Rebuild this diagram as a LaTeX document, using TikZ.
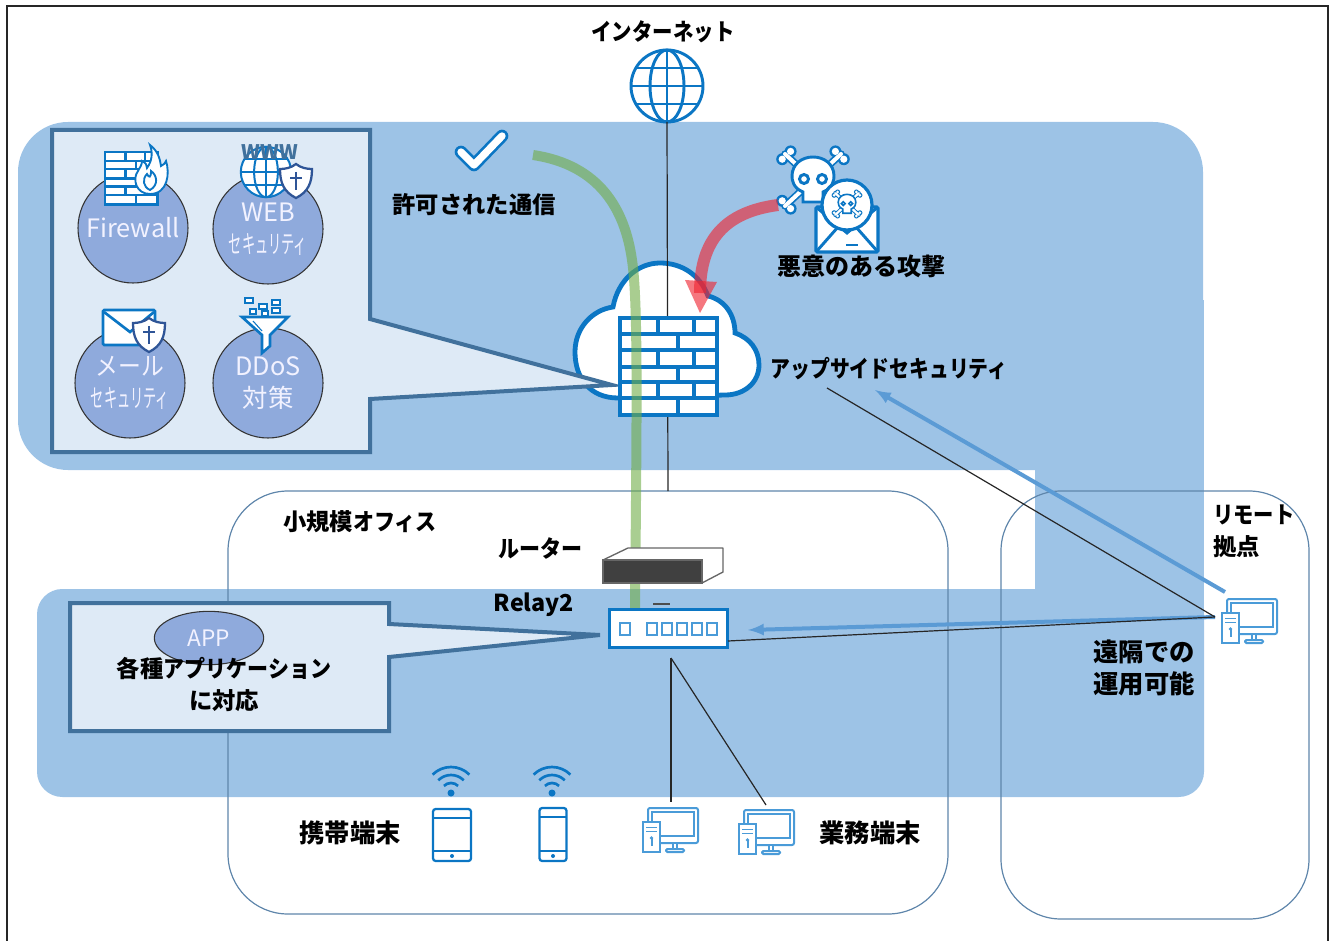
\documentclass[tikz,border=0pt]{standalone}
\usepackage{fontspec}
\setmainfont{Noto Sans CJK JP}
\usepackage{tikz}
\usetikzlibrary{arrows,arrows.meta,shapes.geometric,positioning,calc}

\definecolor{bandblue}{HTML}{9DC3E6}
\definecolor{calloutfill}{HTML}{DEEAF6}
\definecolor{calloutline}{HTML}{41719C}
\definecolor{circlefill}{HTML}{8FAADC}
\definecolor{iconblue}{HTML}{0B76C4}
\definecolor{pcblue}{HTML}{4A9BD8}
\definecolor{shieldblue}{HTML}{2F5597}
\definecolor{arrowblue}{HTML}{5B9BD5}
\definecolor{officeline}{HTML}{5F86AB}
\definecolor{okgreen}{HTML}{70AD47}
\definecolor{badred}{RGB}{239,37,50}

\newcommand{\kana}[2][.9]{\scalebox{#1}[1]{#2}}
\newcommand{\tight}[1]{\scalebox{.52}[1]{#1}}

\tikzset{
    pics/wall/.style={code={
        \fill[white] (0,0) rectangle (97,97);
        \foreach \y in {16,32,49,64,80} \draw[draw=iconblue] (0,\y) -- (97,\y);
        \foreach \a/\b in {0/16,32/49,64/80} {
            \draw[draw=iconblue] (38,\a) -- (38,\b);
            \draw[draw=iconblue] (74,\a) -- (74,\b);
        }
        \foreach \a/\b in {16/32,49/64,80/97} \draw[draw=iconblue] (58,\a) -- (58,\b);
        \draw[draw=iconblue] (0,0) rectangle (97,97);
    }},
    pics/flame/.style={code={
        \draw[draw=iconblue,fill=white] (0,25) .. controls (-14,25) and (-18,10) .. (-12,2) .. controls (-10,-2) and (-8,-4) .. (-8,-8) .. controls (-4,-6) and (-3,-4) .. (-3,-1) .. controls (2,-8) and (3,-16) .. (0,-24) .. controls (8,-18) and (10,-10) .. (11,-3) .. controls (14,-4) and (15,-6) .. (16,-8) .. controls (20,4) and (18,25) .. (0,25) -- cycle;
        \draw[draw=iconblue] (0,21) .. controls (-7,18) and (-8,10) .. (-3,5) .. controls (-1,9) and (1,9) .. (1,2) .. controls (7,6) and (9,16) .. (0,21) -- cycle;
    }},
    pics/earth/.style={code={
        \draw[draw=iconblue,fill=white] (0,0) circle[radius=36];
        \draw[draw=iconblue] (0,0) ellipse[x radius=17,y radius=36];
        \draw[draw=iconblue] (0,-36) -- (0,36);
        \draw[draw=iconblue] (-36,0) -- (36,0);
        \draw[draw=iconblue] (-31,-18) -- (31,-18);
        \draw[draw=iconblue] (-31,18) -- (31,18);
    }},
    pics/shield/.style={code={
        \draw[draw=shieldblue,fill=white,line width=1.7pt] (0,-17) .. controls (5,-13) and (11,-12) .. (16,-12) .. controls (16,2) and (12,11) .. (0,17) .. controls (-12,11) and (-16,2) .. (-16,-12) .. controls (-11,-12) and (-5,-13) .. (0,-17) -- cycle;
        \draw[draw=shieldblue,line width=2.2pt] (0,-9) -- (0,9);
        \draw[draw=shieldblue,line width=2.2pt] (-6,-3) -- (6,-3);
    }},
    pics/letter/.style={code={
        \draw[draw=iconblue,fill=white,rounded corners=1pt] (0,0) rectangle (52,35);
        \draw[draw=iconblue] (1,2) -- (27,22) -- (51,2);
    }},
    pics/skull/.style={code={
        \foreach \p/\q in {-28/-26,28/-26,-28/26,28/26} {
            \draw[draw=iconblue,line width=#1*5.6pt,line cap=round] (0,0) -- (\p,\q);
            \fill[iconblue] (\p*1.1,\q*.8) circle[radius=6];
            \fill[iconblue] (\p*.8,\q*1.1) circle[radius=6];
        }
        \foreach \p/\q in {-28/-26,28/-26,-28/26,28/26} {
            \draw[draw=white,line width=#1*3pt,line cap=round] (0,0) -- (\p,\q);
            \fill[white] (\p*1.1,\q*.8) circle[radius=3.6];
            \fill[white] (\p*.8,\q*1.1) circle[radius=3.6];
        }
        \draw[draw=iconblue,fill=white,line width=#1*2.2pt] (-10,22) -- (-10,12) .. controls (-20,8) and (-21,0) .. (-21,-4) .. controls (-21,-16) and (-11,-23) .. (0,-23) .. controls (11,-23) and (21,-16) .. (21,-4) .. controls (21,0) and (20,8) .. (10,12) -- (10,22) -- cycle;
        \draw[draw=iconblue,line width=#1*2.2pt] (-9,-1) circle[radius=4.5];
        \draw[draw=iconblue,line width=#1*2.2pt] (9,-1) circle[radius=4.5];
    }},
    pics/funnel/.style={code={
        \foreach \p/\q/\r in {3/0/8,30/2/8,17/6/8,30/10/8,8/11/6,20/13/6} \draw[draw=iconblue,fill=white,line width=1.3pt] (\p,\q) rectangle ++(\r,5);
        \draw[draw=iconblue,fill=white] (0,19) -- (46,19) -- (28,37) -- (28,48) -- (20,55) -- (20,37) -- cycle;
        \draw[draw=iconblue,line width=.8pt] (11,23) -- (20,33);
    }},
    pics/desktop/.style={code={
        \draw[draw=pcblue,fill=white,rounded corners=1.5pt] (5,0) rectangle (55,35);
        \draw[draw=pcblue,line width=.8pt] (9,4) rectangle (51,28);
        \draw[draw=pcblue,fill=white] (30,35) rectangle (34,41);
        \draw[draw=pcblue,fill=white,rounded corners=1pt] (23,41) rectangle (41,44);
        \draw[draw=pcblue,fill=white] (0,14) rectangle (17,44);
        \draw[draw=pcblue,line width=.7pt] (3,19) -- (14,19);
        \draw[draw=pcblue,line width=.7pt] (3,23) -- (14,23);
        \draw[draw=pcblue] (8.5,30) -- (8.5,38);
        \fill[pcblue] (8.5,30) circle[radius=1.8];
    }},
    pics/handset/.style 2 args={code={
        \draw[draw=iconblue,fill=white,rounded corners=2pt] ({-#1/2},0) rectangle ({#1/2},#2);
        \draw[draw=iconblue,line width=1pt] ({-#1/2},9) -- ({#1/2},9);
        \draw[draw=iconblue,line width=1pt] ({-#1/2},{#2-10}) -- ({#1/2},{#2-10});
        \fill[iconblue] (0,{#2-5}) circle[radius=2];
    }},
    pics/wifi/.style={code={
        \fill[iconblue] (0,0) circle[radius=3.5];
        \foreach \r in {10,18,26} \draw[draw=iconblue,line width=2pt] (-135:\r) arc[start angle=-135,end angle=-45,radius=\r];
    }},
}

\begin{document}
\begin{tikzpicture}[
    x=0.75pt, y=-0.75pt,
    lab/.style={inner sep=0pt, align=center, font=\fontsize{17.5}{24}\selectfont\bfseries},
    wide/.style={font=\fontsize{19}{24}\selectfont\bfseries},
    roundbox/.style={draw=officeline, line width=0.9pt, rounded corners=45pt},
    callout/.style={draw=calloutline, fill=calloutfill, line width=3pt, line join=miter},
    service/.style={circle, draw=black!80, fill=circlefill, line width=0.8pt, minimum size=82.5pt, inner sep=0pt, align=center, text=white!95!blue, font=\fontsize{19}{24}\selectfont},
    wire/.style={draw=black!85, line width=0.9pt},
    blueline/.style={draw=arrowblue, line width=3pt, -latex},
    icon/.style={every path/.style={line width=#1}}
]
    \useasboundingbox (0,0) rectangle (1335,941);

    % outer frame
    \draw[black!85, line width=1.4pt] (7,941) -- (7,6) -- (1328,6) -- (1328,941);

    % blue bands
    \fill[bandblue, rounded corners=37.5pt] (18,122) rectangle (1203,470);
    \fill[bandblue] (1035,300) rectangle (1204,700);
    \fill[bandblue, rounded corners=19pt] (37,589) rectangle (1204,797);

    % sites
    \draw[roundbox] (228,491) rectangle (948,914);
    \draw[roundbox] (1001,491) rectangle (1309,919);

    % lower callout
    \draw[callout] (70,603) -- (389,603) -- (389,624) -- (600,635) -- (389,657) -- (389,731) -- (70,731) -- cycle;
    \node[ellipse, draw=black!80, fill=circlefill, line width=0.8pt, minimum width=82pt, minimum height=40pt, inner sep=0pt, text=white!95!blue, font=\fontsize{17}{20}\selectfont] (app) at (209,638) {APP};
    \node[lab] (apptext) at (224,684) {各種\kana{アプリケーション}\\に対応};

    % internet
    \pic[icon=2.2pt] at (667,86) {earth};
    \coordinate (inet) at (667,122);
    \node[lab] (inettext) at (663,32) {\kana[.875]{インターネット}};

    % cloud
    \draw[draw=iconblue, fill=white, line width=3.6pt] (618,398) .. controls (590,398) and (575,378) .. (575,352) .. controls (575,328) and (592,310) .. (613,307) .. controls (618,280) and (638,263) .. (660,263) .. controls (682,263) and (700,275) .. (708,296) .. controls (725,300) and (735,315) .. (735,333) .. controls (750,338) and (759,350) .. (759,365) .. controls (759,382) and (745,395) .. (725,395) -- cycle;

    % wire behind the wall
    \coordinate (officetop) at (668,491);
    \draw[wire] (inet) -- (officetop);

    % upper callout
    \draw[callout] (52,130) -- (370,130) -- (370,319) -- (612,385) -- (370,399) -- (370,452) -- (52,452) -- cycle;

    \pic[icon=2.6pt] at (620,318) {wall};

    % services
    \node[service] (fw) at (133,228) {Firewall};
    \node[service] (web) at (268,229) {WEB\\\tight{セキュリティ}};
    \node[service] (mail) at (130,383) {\kana{メール}\\\tight{セキュリティ}};
    \node[service] (ddos) at (268,383) {DDoS\\対策};

    \pic[scale=.54, icon=1.7pt] at (105,152) {wall};
    \pic[icon=1.4pt] at (150,169) {flame};
    \pic[scale=.7, icon=1.5pt] at (266,172) {earth};
    \node[inner sep=0pt, text=calloutline, font=\fontsize{15}{15}\selectfont\bfseries] (www) at (270,152) {WWW};
    \pic at (296,181) {shield};
    \pic[icon=2pt] at (103,310) {letter};
    \pic at (149,335) {shield};
    \pic[icon=2pt] at (242,298) {funnel};

    % allowed traffic
    \draw[draw=iconblue, line width=9.5pt, line cap=round, line join=round] (461,152) -- (474,165) -- (502,136);
    \draw[draw=white, line width=5.5pt, line cap=round, line join=round] (461,152) -- (474,165) -- (502,136);
    \node[lab] (oktext) at (474,205) {許可された通信};
    \draw[draw=okgreen, draw opacity=.6, line width=7.5pt] (533,155) .. controls (600,165) and (625,210) .. (632,260) .. controls (638,300) and (637,400) .. (635,608);

    % attack
    \pic at (813,180) {skull=1};
    \draw[draw=iconblue, fill=white, line width=2.4pt, rounded corners=1pt] (816,207) rectangle (878,252);
    \draw[draw=iconblue, line width=2.2pt] (816,207) -- (847,233) -- (878,207);
    \draw[draw=iconblue, line width=2.2pt] (816,252) -- (838,227);
    \draw[draw=iconblue, line width=2.2pt] (878,252) -- (856,227);
    \draw[draw=iconblue, line width=1.4pt] (846,245) -- (858,245);
    \draw[draw=iconblue, fill=white, line width=2.4pt] (847,205) circle[radius=25];
    \pic[scale=.42] at (847,204) {skull=.55};
    \node[lab, font=\fontsize{18}{24}\selectfont\bfseries] (badtext) at (861,266) {悪意のある攻撃};
    \draw[draw=badred, draw opacity=.62, line width=9pt] (778,205) .. controls (725,212) and (700,240) .. (700,293);
    \fill[fill=badred, fill opacity=.62] (685,280) -- (717,282) -- (700,313) -- cycle;

    % labels
    \node[lab] (fwtext) at (889,369) {\kana[.85]{アップサイドセキュリティ}};
    \node[lab] (office) at (360,522) {小規模\kana{オフィス}};
    \node[lab] (routertext) at (540,548) {\kana{ルーター}};
    \node[lab] (relaytext) at (534,605) {Relay2};
    \node[lab, anchor=north west, align=left] (remote) at (1213,505) {\kana[.87]{リモート}\\拠点};
    \node[lab, wide] (farops) at (1144,668) {遠隔での\\運用可能};
    \node[lab, wide] (mobile) at (350,833) {携帯端末};
    \node[lab, wide] (business) at (870,833) {業務端末};

    % router
    \draw[draw=black!60, fill=white, line width=1pt, line join=round] (603,560) -- (628,548) -- (723,548) -- (723,572) -- (702,583) -- (702,560) -- cycle;
    \draw[draw=black!60, fill=black!75, line width=1pt] (603,560) rectangle (702,583);

    % relay
    \node[draw=iconblue, fill=white, line width=2.2pt, minimum width=88pt, minimum height=28pt, inner sep=0pt] (relay) at (668.5,628.5) {};
    \foreach \p in {620,647,662,677,692,707} \draw[draw=pcblue, line width=1.4pt] (\p,623) rectangle ++(10,12);
    \draw[black!70, line width=1pt] (653,604) -- (670,604);

    % terminals
    \pic[icon=1.5pt] at (643,808) {desktop};
    \pic[icon=1.5pt] at (739,810) {desktop};
    \pic[icon=1.5pt] at (1222,599) {desktop};
    \coordinate (pcone) at (671,802);
    \coordinate (pctwo) at (766,805);
    \coordinate (pcfar) at (1215,617);
    \coordinate (relaywire) at (671,658);
    \coordinate (relayside) at (728,641);
    \coordinate (fwwire) at (827,388);
    \coordinate (remotetop) at (1225,592);
    \coordinate (fwhead) at (875,390);
    \coordinate (relayhead) at (748,630);

    \draw[blueline] (pcfar) -- (relayhead);
    \draw[blueline] (remotetop) -- (fwhead);
    \draw[wire] (relaywire) -- (pcone);
    \draw[wire] (relaywire) -- (pctwo);
    \draw[wire] (pcfar) -- (relayside);
    \draw[wire] (pcfar) -- (fwwire);

    \pic[icon=1.7pt] at (452,809) {handset={38}{52}};
    \pic[icon=1.7pt] at (553,808) {handset={27}{53}};
    \pic at (451,793) {wifi};
    \pic at (552,793) {wifi};
\end{tikzpicture}
\end{document}
